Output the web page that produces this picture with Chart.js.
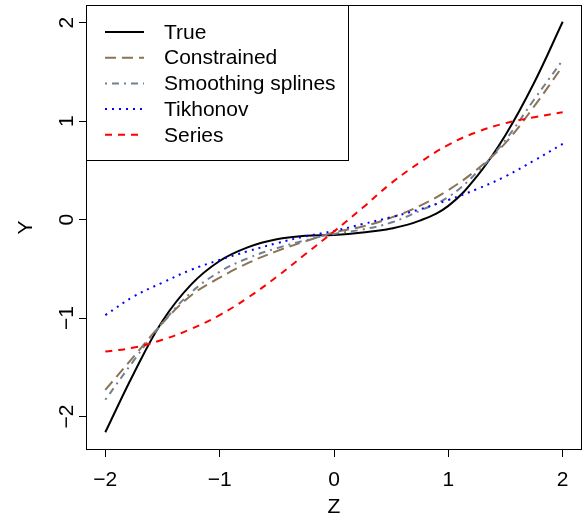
<!DOCTYPE html>
<html>
<head>
<meta charset="utf-8">
<script src="https://cdn.jsdelivr.net/npm/chart.js@4.4.0/dist/chart.umd.min.js"></script>
<style>
    html, body { margin: 0; padding: 0; background: #fff; }
    canvas { display: block; }
</style>
</head>
<body>
<canvas id="fit-chart" width="588" height="529"></canvas>
<script>
// values
const zGrid = [-2, -1.75, -1.5, -1.25, -1, -0.75, -0.5, -0.25, 0, 0.25, 0.5, 0.75, 1, 1.25, 1.5, 1.75, 2];
const trueY        = [-2.16, -1.56, -1.03, -0.66, -0.42, -0.28, -0.20, -0.165, -0.155, -0.13, -0.09, -0.01, 0.14, 0.44, 0.86, 1.39, 2.01];
const constrainedY = [-1.73, -1.39, -1.05, -0.77, -0.59, -0.44, -0.32, -0.22, -0.13, -0.07, 0.02, 0.14, 0.30, 0.51, 0.78, 1.15, 1.56];
const smoothingY   = [-1.83, -1.43, -1.05, -0.74, -0.53, -0.39, -0.29, -0.21, -0.145, -0.10, -0.03, 0.09, 0.23, 0.48, 0.81, 1.22, 1.62];
const tikhonovY    = [-0.97, -0.78, -0.64, -0.51, -0.41, -0.32, -0.24, -0.17, -0.115, -0.045, 0.025, 0.105, 0.20, 0.31, 0.44, 0.60, 0.77];
const seriesY      = [-1.34, -1.30, -1.22, -1.11, -0.97, -0.79, -0.58, -0.35, -0.12, 0.12, 0.37, 0.58, 0.76, 0.89, 0.98, 1.04, 1.09];

const seriesNames = ['True', 'Constrained', 'Smoothing splines', 'Tikhonov', 'Series'];
const xTicks = [-2, -1, 0, 1, 2];
const yTicks = [-2, -1, 0, 1, 2];

const fontFamily = "'Liberation Sans', Arial, sans-serif";

function minusLabel(v) {
    return v < 0 ? '\u2212' + Math.abs(v) : String(v);
}

function lineSet(label, values, color, dash, order) {
    return {
        label: label,
        data: zGrid.map((z, i) => ({x: z, y: values[i]})),
        borderColor: color,
        borderWidth: 2,
        borderDash: dash,
        pointRadius: 0,
        fill: false,
        tension: 0.4,
        order: order
    };
}

// box around the plot region, rotated y labels (R style) and the legend
const frameAndLegend = {
    id: 'frameAndLegend',
    afterDraw(chart) {
        const ctx = chart.ctx;
        const a = chart.chartArea;
        const yScale = chart.scales.y;
        ctx.save();
        ctx.strokeStyle = '#000';
        ctx.lineWidth = 1;
        ctx.setLineDash([]);
        ctx.strokeRect(Math.round(a.left) - 0.5, Math.round(a.top) - 0.5,
            Math.round(a.right - a.left) + 1, Math.round(a.bottom - a.top) + 1);

        // y tick labels, reading upwards
        ctx.font = '21px ' + fontFamily;
        ctx.fillStyle = '#000';
        ctx.textAlign = 'center';
        ctx.textBaseline = 'middle';
        yTicks.forEach(v => {
            ctx.save();
            ctx.translate(67, yScale.getPixelForValue(v));
            ctx.rotate(-Math.PI / 2);
            ctx.fillText(minusLabel(v), 0, 0);
            ctx.restore();
        });

        // legend
        const lx = Math.round(a.left) - 0.5, ly = Math.round(a.top) - 0.5;
        ctx.fillStyle = '#fff';
        ctx.fillRect(lx, ly, 262, 155);
        ctx.strokeRect(lx, ly, 262, 155);
        ctx.textAlign = 'left';
        chart.data.datasets.forEach((ds, i) => {
            const y = 32 + i * 25.7;
            ctx.strokeStyle = ds.borderColor;
            ctx.lineWidth = 2;
            ctx.setLineDash(ds.borderDash);
            ctx.beginPath();
            ctx.moveTo(105, y);
            ctx.lineTo(144, y);
            ctx.stroke();
            ctx.fillStyle = '#000';
            ctx.fillText(ds.label, 164, y + 1);
        });
        ctx.restore();
    }
};

function d2c_fitChart() {
    const fitChart = document.getElementById('fit-chart');
    new Chart(fitChart, {
        type: 'line',
        data: {
            datasets: [
                lineSet(seriesNames[0], trueY, '#000000', [], 5),
                lineSet(seriesNames[1], constrainedY, '#8B7355', [11, 6], 4),
                lineSet(seriesNames[2], smoothingY, '#708090', [2, 5, 7, 5], 3),
                lineSet(seriesNames[3], tikhonovY, '#0000FF', [2, 5], 2),
                lineSet(seriesNames[4], seriesY, '#FF0000', [7, 6], 1)
            ]
        },
        options: {
            responsive: false,
            animation: false,
            devicePixelRatio: 1,
            layout: {
                padding: {top: 6, right: 7, left: 0, bottom: 0}
            },
            plugins: {
                legend: {display: false},
                tooltip: {enabled: false}
            },
            scales: {
                x: {
                    type: 'linear',
                    position: 'bottom',
                    min: -2.16,
                    max: 2.16,
                    afterBuildTicks: (scale) => { scale.ticks = xTicks.map(v => ({value: v})); },
                    afterFit: (scale) => { scale.height = 80; },
                    border: {display: false},
                    grid: {drawOnChartArea: false, drawTicks: true, tickLength: 8, color: '#000'},
                    ticks: {
                        color: '#000',
                        font: {family: fontFamily, size: 21},
                        padding: 11,
                        maxRotation: 0,
                        callback: (v) => minusLabel(v)
                    },
                    title: {
                        display: true,
                        text: 'Z',
                        color: '#000',
                        font: {family: fontFamily, size: 21},
                        padding: {top: 0, bottom: 9}
                    }
                },
                y: {
                    type: 'linear',
                    min: -2.33,
                    max: 2.17,
                    afterBuildTicks: (scale) => { scale.ticks = yTicks.map(v => ({value: v})); },
                    afterFit: (scale) => { scale.width = 87; },
                    border: {display: false},
                    grid: {drawOnChartArea: false, drawTicks: true, tickLength: 8, color: '#000'},
                    ticks: {display: false},
                    title: {
                        display: true,
                        text: 'Y',
                        color: '#000',
                        font: {family: fontFamily, size: 21},
                        padding: {top: 14, bottom: 0}
                    }
                }
            }
        },
        plugins: [frameAndLegend]
    });
}d2c_fitChart();
</script>
</body>
</html>
